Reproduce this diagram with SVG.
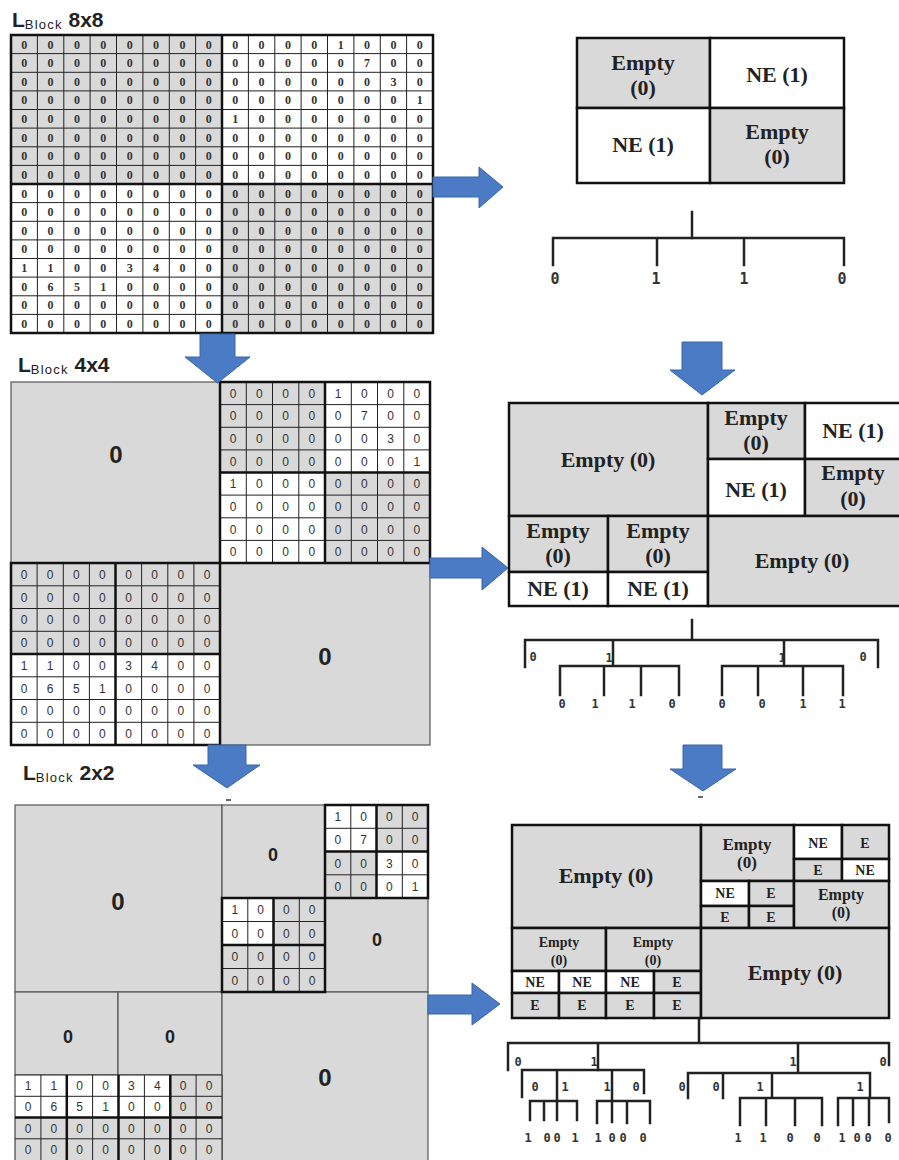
<svg xmlns="http://www.w3.org/2000/svg" width="899" height="1160" viewBox="0 0 899 1160">
<style>
.g{fill:#d9d9d9}
.w{fill:#ffffff}
.thin{stroke:#222;stroke-width:1;fill:none}
.thick{stroke:#111;stroke-width:2.5;fill:none}
.frame{stroke:#555;stroke-width:1.2}
.d8{font-family:"Liberation Serif",serif;font-size:12px;font-weight:bold;fill:#333;text-anchor:middle}
.d4{font-family:"Liberation Sans",sans-serif;font-size:12px;fill:#333;text-anchor:middle}
.big0{font-family:"Liberation Sans",sans-serif;font-weight:bold;font-size:24px;text-anchor:middle;fill:#222}
.mid0{font-family:"Liberation Sans",sans-serif;font-weight:bold;font-size:18px;text-anchor:middle;fill:#222}
.ttl{font-family:"Liberation Sans",sans-serif;font-weight:bold;font-size:21px;fill:#222}
.sub{font-family:"Liberation Sans",sans-serif;font-weight:normal;font-size:13px;letter-spacing:1.2px}
.box{stroke:#111;stroke-width:2.5}
.lb{font-family:"Liberation Serif",serif;font-weight:bold;font-size:22px;fill:#222;text-anchor:middle}
.lm{font-family:"Liberation Serif",serif;font-weight:bold;font-size:17px;fill:#222;text-anchor:middle}
.lm2{font-family:"Liberation Serif",serif;font-weight:bold;font-size:16px;fill:#222;text-anchor:middle}
.ls{font-family:"Liberation Serif",serif;font-weight:bold;font-size:14px;fill:#222;text-anchor:middle}
.tree{stroke:#222;stroke-width:2.5;fill:none;stroke-linecap:square}
.tl{font-family:"DejaVu Sans Mono",monospace;font-size:15px;font-weight:bold;text-anchor:middle;fill:#333}
.ts{font-family:"DejaVu Sans Mono",monospace;font-size:12px;font-weight:bold;text-anchor:middle;fill:#333}
.arrow{fill:#4a7bc4;stroke:#3a66a8;stroke-width:1}
</style>
<rect width="899" height="1160" fill="#ffffff"/>

<!-- ===== 8x8 block ===== -->
<g id="title8"><text class="ttl" x="12" y="27">L<tspan class="sub" dy="2">Block</tspan><tspan dy="-2"> 8x8</tspan></text></g>
<g id="grid8">
<rect class="w" x="11" y="35" width="422" height="298"/>
<rect class="g" x="11" y="35" width="211" height="149"/>
<rect class="g" x="222" y="184" width="211" height="149"/>
<path class="thin" d="M37.4,35V333M63.8,35V333M90.1,35V333M116.5,35V333M142.9,35V333M169.3,35V333M195.6,35V333M248.4,35V333M274.8,35V333M301.1,35V333M327.5,35V333M353.9,35V333M380.3,35V333M406.6,35V333M11,53.6H433M11,72.3H433M11,90.9H433M11,109.5H433M11,128.1H433M11,146.8H433M11,165.4H433M11,202.6H433M11,221.3H433M11,239.9H433M11,258.5H433M11,277.1H433M11,295.8H433M11,314.4H433"/>
<rect class="thick" x="11" y="35" width="422" height="298"/>
<path class="thick" d="M222,35V333M11,184H433"/>
<text class="d8" x="24.2 50.6 76.9 103.3 129.7 156.1 182.4 208.8 235.2 261.6 287.9 314.3 340.7 367.1 393.4 419.8" y="48.5">0000000000001000</text>
<text class="d8" x="24.2 50.6 76.9 103.3 129.7 156.1 182.4 208.8 235.2 261.6 287.9 314.3 340.7 367.1 393.4 419.8" y="67.1">0000000000000700</text>
<text class="d8" x="24.2 50.6 76.9 103.3 129.7 156.1 182.4 208.8 235.2 261.6 287.9 314.3 340.7 367.1 393.4 419.8" y="85.8">0000000000000030</text>
<text class="d8" x="24.2 50.6 76.9 103.3 129.7 156.1 182.4 208.8 235.2 261.6 287.9 314.3 340.7 367.1 393.4 419.8" y="104.4">0000000000000001</text>
<text class="d8" x="24.2 50.6 76.9 103.3 129.7 156.1 182.4 208.8 235.2 261.6 287.9 314.3 340.7 367.1 393.4 419.8" y="123">0000000010000000</text>
<text class="d8" x="24.2 50.6 76.9 103.3 129.7 156.1 182.4 208.8 235.2 261.6 287.9 314.3 340.7 367.1 393.4 419.8" y="141.6">0000000000000000</text>
<text class="d8" x="24.2 50.6 76.9 103.3 129.7 156.1 182.4 208.8 235.2 261.6 287.9 314.3 340.7 367.1 393.4 419.8" y="160.3">0000000000000000</text>
<text class="d8" x="24.2 50.6 76.9 103.3 129.7 156.1 182.4 208.8 235.2 261.6 287.9 314.3 340.7 367.1 393.4 419.8" y="178.9">0000000000000000</text>
<text class="d8" x="24.2 50.6 76.9 103.3 129.7 156.1 182.4 208.8 235.2 261.6 287.9 314.3 340.7 367.1 393.4 419.8" y="197.5">0000000000000000</text>
<text class="d8" x="24.2 50.6 76.9 103.3 129.7 156.1 182.4 208.8 235.2 261.6 287.9 314.3 340.7 367.1 393.4 419.8" y="216.1">0000000000000000</text>
<text class="d8" x="24.2 50.6 76.9 103.3 129.7 156.1 182.4 208.8 235.2 261.6 287.9 314.3 340.7 367.1 393.4 419.8" y="234.8">0000000000000000</text>
<text class="d8" x="24.2 50.6 76.9 103.3 129.7 156.1 182.4 208.8 235.2 261.6 287.9 314.3 340.7 367.1 393.4 419.8" y="253.4">0000000000000000</text>
<text class="d8" x="24.2 50.6 76.9 103.3 129.7 156.1 182.4 208.8 235.2 261.6 287.9 314.3 340.7 367.1 393.4 419.8" y="272">1100340000000000</text>
<text class="d8" x="24.2 50.6 76.9 103.3 129.7 156.1 182.4 208.8 235.2 261.6 287.9 314.3 340.7 367.1 393.4 419.8" y="290.6">0651000000000000</text>
<text class="d8" x="24.2 50.6 76.9 103.3 129.7 156.1 182.4 208.8 235.2 261.6 287.9 314.3 340.7 367.1 393.4 419.8" y="309.3">0000000000000000</text>
<text class="d8" x="24.2 50.6 76.9 103.3 129.7 156.1 182.4 208.8 235.2 261.6 287.9 314.3 340.7 367.1 393.4 419.8" y="327.9">0000000000000000</text>
</g>

<!-- ===== 4x4 block ===== -->
<g id="title4"><text class="ttl" x="18" y="372">L<tspan class="sub" dy="2">Block</tspan><tspan dy="-2"> 4x4</tspan></text></g>
<g id="block4">
<rect class="g frame" x="11" y="382" width="209" height="181"/>
<text class="big0" x="116" y="463">0</text>
<rect class="g frame" x="220" y="563" width="210" height="182"/>
<text class="big0" x="325" y="665">0</text>
<!-- top-right grid -->
<rect class="w" x="220" y="382" width="210" height="181"/>
<rect class="g" x="220" y="382" width="105" height="90.5"/>
<rect class="g" x="325" y="472.5" width="105" height="90.5"/>
<path class="thin" d="M246.3,382V563M272.5,382V563M298.8,382V563M351.3,382V563M377.5,382V563M403.8,382V563M220,404.6H430M220,427.3H430M220,449.9H430M220,495.1H430M220,517.8H430M220,540.4H430"/>
<rect class="thick" x="220" y="382" width="210" height="181"/>
<path class="thick" d="M325,382V563M220,472.5H430"/>
<text class="d4" x="233.1 259.4 285.6 311.9 338.1 364.4 390.6 416.9" y="397.8">00001000</text>
<text class="d4" x="233.1 259.4 285.6 311.9 338.1 364.4 390.6 416.9" y="420.4">00000700</text>
<text class="d4" x="233.1 259.4 285.6 311.9 338.1 364.4 390.6 416.9" y="443.1">00000030</text>
<text class="d4" x="233.1 259.4 285.6 311.9 338.1 364.4 390.6 416.9" y="465.7">00000001</text>
<text class="d4" x="233.1 259.4 285.6 311.9 338.1 364.4 390.6 416.9" y="488.3">10000000</text>
<text class="d4" x="233.1 259.4 285.6 311.9 338.1 364.4 390.6 416.9" y="510.9">00000000</text>
<text class="d4" x="233.1 259.4 285.6 311.9 338.1 364.4 390.6 416.9" y="533.6">00000000</text>
<text class="d4" x="233.1 259.4 285.6 311.9 338.1 364.4 390.6 416.9" y="556.2">00000000</text>
<!-- lower-left grid -->
<rect class="w" x="11" y="563" width="209" height="182"/>
<rect class="g" x="11" y="563" width="209" height="91"/>
<path class="thin" d="M37.1,563V745M63.3,563V745M89.4,563V745M141.6,563V745M167.8,563V745M193.9,563V745M11,585.8H220M11,608.5H220M11,631.3H220M11,676.8H220M11,699.5H220M11,722.3H220"/>
<rect class="thick" x="11" y="563" width="209" height="182"/>
<path class="thick" d="M115.5,563V745M11,654H220"/>
<text class="d4" x="24.1 50.2 76.3 102.4 128.6 154.7 180.8 207" y="578.9">00000000</text>
<text class="d4" x="24.1 50.2 76.3 102.4 128.6 154.7 180.8 207" y="601.6">00000000</text>
<text class="d4" x="24.1 50.2 76.3 102.4 128.6 154.7 180.8 207" y="624.4">00000000</text>
<text class="d4" x="24.1 50.2 76.3 102.4 128.6 154.7 180.8 207" y="647.1">00000000</text>
<text class="d4" x="24.1 50.2 76.3 102.4 128.6 154.7 180.8 207" y="669.9">11003400</text>
<text class="d4" x="24.1 50.2 76.3 102.4 128.6 154.7 180.8 207" y="692.6">06510000</text>
<text class="d4" x="24.1 50.2 76.3 102.4 128.6 154.7 180.8 207" y="715.4">00000000</text>
<text class="d4" x="24.1 50.2 76.3 102.4 128.6 154.7 180.8 207" y="738.1">00000000</text>
</g>

<!-- ===== 2x2 block ===== -->
<g id="title2"><text class="ttl" x="23" y="780">L<tspan class="sub" dy="2">Block</tspan><tspan dy="-2"> 2x2</tspan></text></g>
<g id="block2">
<rect class="g frame" x="15" y="805" width="207" height="187"/>
<text class="big0" x="118" y="910">0</text>
<rect class="g frame" x="222" y="805" width="103" height="93"/>
<text class="mid0" x="273" y="861">0</text>
<rect class="g frame" x="325" y="898" width="103" height="94"/>
<text class="mid0" x="377" y="946">0</text>
<rect class="g frame" x="15" y="992" width="103" height="83"/>
<text class="mid0" x="68" y="1043">0</text>
<rect class="g frame" x="118" y="992" width="104" height="83"/>
<text class="mid0" x="170" y="1043">0</text>
<rect class="g frame" x="222" y="992" width="206" height="170"/>
<text class="big0" x="325" y="1086">0</text>
<path d="M226,800H231" stroke="#333" stroke-width="1.5"/>
<!-- TR-TR grid -->
<rect class="w" x="325" y="805" width="103" height="93"/>
<rect class="g" x="376.5" y="805" width="51.5" height="46.5"/>
<rect class="g" x="325" y="851.5" width="51.5" height="46.5"/>
<path class="thin" d="M350.8,805V898M402.3,805V898M325,828.3H428M325,874.8H428"/>
<rect class="thick" x="325" y="805" width="103" height="93"/>
<path class="thick" d="M376.5,805V898M325,851.5H428"/>
<text class="d4" x="337.9 363.6 389.4 415.1" y="821.1">1000</text>
<text class="d4" x="337.9 363.6 389.4 415.1" y="844.4">0700</text>
<text class="d4" x="337.9 363.6 389.4 415.1" y="867.6">0030</text>
<text class="d4" x="337.9 363.6 389.4 415.1" y="890.9">0001</text>
<!-- TR-BL grid -->
<rect class="w" x="222" y="898" width="51.5" height="47"/>
<rect class="g" x="273.5" y="898" width="51.5" height="47"/>
<rect class="g" x="222" y="945" width="103" height="47"/>
<path class="thin" d="M247.8,898V992M299.3,898V992M222,921.5H325M222,968.5H325"/>
<rect class="thick" x="222" y="898" width="103" height="94"/>
<path class="thick" d="M273.5,898V992M222,945H325"/>
<text class="d4" x="234.9 260.6 286.4 312.1" y="914.3">1000</text>
<text class="d4" x="234.9 260.6 286.4 312.1" y="937.8">0000</text>
<text class="d4" x="234.9 260.6 286.4 312.1" y="961.3">0000</text>
<text class="d4" x="234.9 260.6 286.4 312.1" y="984.8">0000</text>
<!-- BL grid -->
<rect class="w" x="15" y="1075" width="155.3" height="42.5"/>
<rect class="g" x="170.3" y="1075" width="51.7" height="42.5"/>
<rect class="g" x="15" y="1117.5" width="207" height="42.5"/>
<path class="thin" d="M40.9,1075V1160M92.6,1075V1160M144.4,1075V1160M196.1,1075V1160M15,1096.3H222M15,1138.8H222M15,1075H222M15,1075V1160M222,1075V1160"/>
<path class="thick" d="M66.8,1075V1160M118.5,1075V1160M170.3,1075V1160M15,1117.5H222"/>
<text class="d4" x="28 53.8 79.7 105.6 131.4 157.3 183.2 209" y="1090.1">11003400</text>
<text class="d4" x="28 53.8 79.7 105.6 131.4 157.3 183.2 209" y="1111.4">06510000</text>
<text class="d4" x="28 53.8 79.7 105.6 131.4 157.3 183.2 209" y="1132.6">00000000</text>
<text class="d4" x="28 53.8 79.7 105.6 131.4 157.3 183.2 209" y="1153.9">00000000</text>
</g>

<!-- ===== right boxes ===== -->
<g id="box1">
<rect class="g box" x="577" y="38" width="133" height="70"/>
<rect class="w box" x="710" y="38" width="134" height="70"/>
<rect class="w box" x="577" y="108" width="133" height="75"/>
<rect class="g box" x="710" y="108" width="134" height="75"/>
<text class="lb" x="643" y="70">Empty</text><text class="lb" x="643" y="95">(0)</text>
<text class="lb" x="777" y="82">NE (1)</text>
<text class="lb" x="643" y="152">NE (1)</text>
<text class="lb" x="777" y="139">Empty</text><text class="lb" x="777" y="164">(0)</text>
</g>

<g id="box2">
<rect class="g box" x="509" y="403" width="199" height="113"/>
<text class="lb" x="608" y="467">Empty (0)</text>
<rect class="g box" x="708" y="403" width="97" height="56"/>
<text class="lb" x="756" y="425">Empty</text><text class="lb" x="756" y="450">(0)</text>
<rect class="w box" x="805" y="403" width="100" height="56"/>
<text class="lb" x="853" y="438">NE (1)</text>
<rect class="w box" x="708" y="459" width="97" height="57"/>
<text class="lb" x="756" y="497">NE (1)</text>
<rect class="g box" x="805" y="459" width="100" height="57"/>
<text class="lb" x="853" y="480">Empty</text><text class="lb" x="853" y="506">(0)</text>
<rect class="g box" x="509" y="516" width="99" height="56"/>
<text class="lb" x="558" y="538">Empty</text><text class="lb" x="558" y="563">(0)</text>
<rect class="g box" x="608" y="516" width="100" height="56"/>
<text class="lb" x="658" y="538">Empty</text><text class="lb" x="658" y="563">(0)</text>
<rect class="w box" x="509" y="572" width="99" height="34"/>
<text class="lb" x="558" y="596">NE (1)</text>
<rect class="w box" x="608" y="572" width="100" height="34"/>
<text class="lb" x="658" y="596">NE (1)</text>
<rect class="g box" x="708" y="516" width="197" height="90"/>
<text class="lb" x="802" y="568">Empty (0)</text>
</g>

<g id="box3">
<rect class="g box" x="512" y="825" width="189" height="103"/>
<text class="lb" x="606" y="883">Empty (0)</text>
<rect class="g box" x="701" y="825" width="93" height="56"/>
<text class="lm" x="747" y="850">Empty</text><text class="lm" x="747" y="868">(0)</text>
<rect class="w box" x="794" y="825" width="48" height="34"/>
<text class="ls" x="818" y="848">NE</text>
<rect class="g box" x="842" y="825" width="47" height="34"/>
<text class="ls" x="865" y="848">E</text>
<rect class="g box" x="794" y="859" width="48" height="22"/>
<text class="ls" x="818" y="875">E</text>
<rect class="w box" x="842" y="859" width="47" height="22"/>
<text class="ls" x="865" y="875">NE</text>
<rect class="w box" x="701" y="881" width="48" height="25"/>
<text class="ls" x="725" y="898">NE</text>
<rect class="g box" x="749" y="881" width="45" height="25"/>
<text class="ls" x="771" y="898">E</text>
<rect class="g box" x="701" y="906" width="48" height="22"/>
<text class="ls" x="725" y="922">E</text>
<rect class="g box" x="749" y="906" width="45" height="22"/>
<text class="ls" x="771" y="922">E</text>
<rect class="g box" x="794" y="881" width="95" height="47"/>
<text class="lm2" x="841" y="900">Empty</text><text class="lm2" x="841" y="918">(0)</text>
<rect class="g box" x="512" y="928" width="94" height="43"/>
<text class="ls" x="559" y="947">Empty</text><text class="ls" x="559" y="965">(0)</text>
<rect class="g box" x="606" y="928" width="95" height="43"/>
<text class="ls" x="653" y="947">Empty</text><text class="ls" x="653" y="965">(0)</text>
<rect class="w box" x="512" y="971" width="47" height="22"/>
<text class="ls" x="535" y="987">NE</text>
<rect class="w box" x="559" y="971" width="47" height="22"/>
<text class="ls" x="582" y="987">NE</text>
<rect class="w box" x="606" y="971" width="48" height="22"/>
<text class="ls" x="630" y="987">NE</text>
<rect class="g box" x="654" y="971" width="47" height="22"/>
<text class="ls" x="677" y="987">E</text>
<rect class="g box" x="512" y="993" width="47" height="25"/>
<text class="ls" x="535" y="1010">E</text>
<rect class="g box" x="559" y="993" width="47" height="25"/>
<text class="ls" x="582" y="1010">E</text>
<rect class="g box" x="606" y="993" width="48" height="25"/>
<text class="ls" x="630" y="1010">E</text>
<rect class="g box" x="654" y="993" width="47" height="25"/>
<text class="ls" x="677" y="1010">E</text>
<rect class="g box" x="701" y="928" width="188" height="90"/>
<text class="lb" x="795" y="980">Empty (0)</text>
<path d="M698,797H703" stroke="#333" stroke-width="1.5"/>
</g>

<!-- ===== trees ===== -->
<g id="tree1">
<path class="tree" d="M692,212V238" stroke-width="1.5"/>
<path class="tree" d="M553,238H844M553,238V265M657,238V265M744,238V265M844,238V265"/>
<text class="tl" x="555" y="284">0</text>
<text class="tl" x="656" y="284">1</text>
<text class="tl" x="744" y="284">1</text>
<text class="tl" x="842" y="284">0</text>
</g>

<g id="tree2">
<path class="tree" d="M692,620V640M525,640H878M525,640V667M878,640V667M613,640V666M784,640V666M560,666H679M560,666V695M604,666V695M641,666V695M679,666V695M722,666H843M722,666V695M758,666V695M803,666V695M843,666V695"/>
<text class="ts" x="533" y="661">0</text>
<text class="ts" x="609" y="662">1</text>
<text class="ts" x="782" y="662">1</text>
<text class="ts" x="863" y="661">0</text>
<text class="ts" x="562 595 632 672 722 762 803 842" y="708">01100011</text>
</g>

<g id="tree3">
<path class="tree" d="M699,1020V1043M508,1043H889M508,1043V1070M889,1043V1065M598,1043V1070M798,1043V1072"/>
<path class="tree" d="M522,1070H644M522,1070V1097M644,1070V1093M557,1070V1120M612,1070V1122M530,1101H577M530,1101V1120M544,1101V1120M577,1101V1120M597,1101H650M597,1101V1123M627,1101V1123M650,1101V1123"/>
<path class="tree" d="M688,1073H870M688,1073V1098M723,1073V1098M772,1073V1098M870,1073V1098M740,1098H822M740,1098V1125M766,1098V1125M795,1098V1125M822,1098V1125M838,1098H889M838,1098V1125M853,1098V1125M869,1098V1125M889,1098V1122"/>
<text class="ts" x="518 594 793 883" y="1066">0110</text>
<text class="ts" x="535 565 607 636 682 716 760 860" y="1091">01100011</text>
<text class="ts" x="528 547 557 575 598 612 623 643 738 763 790 817 842 857 868 888" y="1142">1001100011001000</text>
</g>

<!-- ===== connectors (block arrows) ===== -->
<g id="connectors">
<path class="arrow" d="M433,177H479V167L503,187L479,208V197H433Z"/>
<path class="arrow" d="M200,334H235V357H250L217.5,383L185,357H200Z"/>
<path class="arrow" d="M682,342H722V370H735L702,395L670,370H682Z"/>
<path class="arrow" d="M430,558H482V547L508,568L482,590V578H430Z"/>
<path class="arrow" d="M208,745H246V765H260L227,788L193,765H208Z"/>
<path class="arrow" d="M683,745H722V769H736L703,791L670,769H683Z"/>
<path class="arrow" d="M428,995H472V983L500,1004L472,1025V1014H428Z"/>
</g>
</svg>
